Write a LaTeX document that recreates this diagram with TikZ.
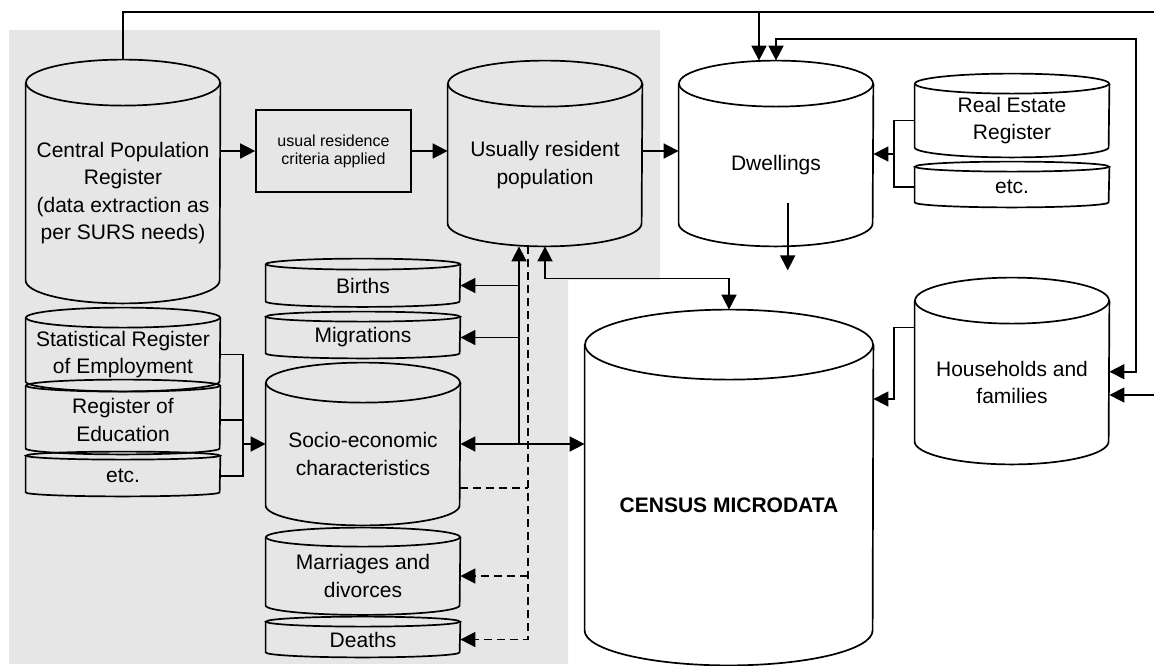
\documentclass[tikz,border=0pt]{standalone}
\usepackage{fontspec}
\setmainfont{Liberation Sans}
\usepackage{tikz}
\usetikzlibrary{arrows.meta}
\definecolor{panel}{HTML}{E6E6E6}

\begin{document}
\begin{tikzpicture}[
  x=0.5pt, y=-0.5pt,
  wire/.style={line width=0.85pt},
  flow/.style={wire, -{Triangle[length=7.5pt,width=7.5pt]}},
  flowboth/.style={wire, {Triangle[length=7.5pt,width=7.5pt]}-{Triangle[length=7.5pt,width=7.5pt]}},
  dwire/.style={wire, dash pattern=on 4pt off 2.5pt},
  dflow/.style={flow, dash pattern=on 4pt off 2.5pt},
  db/.style={minimum width=97pt, inner sep=0pt, align=center,
    font=\fontsize{10.5}{13.6}\selectfont},
  box/.style={draw, line width=0.85pt, minimum width=77.5pt, minimum height=41pt,
    inner sep=0pt, align=center, font=\fontsize{8}{9}\selectfont},
]
  \useasboundingbox (0,0) rectangle (1154,665);
  \fill[panel] (9,30) -| (660,280) -| (568,664) -- (9,664) -- cycle;

  % registers and statistical data sets
  \node[db, minimum height=87pt] (cpr) at (123,193)
    {Central Population\\Register\\(data extraction as\\per SURS needs)};
  \node[box] (crit) at (333.5,151) {usual residence\\criteria applied};
  \node[db, minimum height=58pt] (urp) at (545,165) {Usually resident\\population};
  \node[db, minimum height=58pt] (dwel) at (776,165) {Dwellings};
  \node[db, minimum height=26.5pt] (rer) at (1012,120.5) {Real Estate\\Register};
  \node[db, minimum height=15pt] (etc2) at (1012,187) {etc.};
  \node[db, minimum height=58.5pt] (hhf) at (1012,382.5) {Households and\\families};
  \node[db, minimum width=144pt, minimum height=125pt, font=\fontsize{10.5}{13.6}\selectfont\bfseries]
    (cen) at (729,505) {CENSUS MICRODATA};
  \node[db, minimum height=15.5pt] (bir) at (363,285.5) {Births};
  \node[db, minimum height=15.5pt] (mig) at (363,337.5) {Migrations};
  \node[db, minimum height=51pt] (soc) at (363,454) {Socio-economic\\characteristics};
  \node[db, minimum height=29pt] (mar) at (363,576) {Marriages and\\divorces};
  \node[db, minimum height=12.5pt] (dea) at (363,639.5) {Deaths};
  \node[db, minimum height=26.5pt] (sre) at (123,354.5) {Statistical Register\\of Employment};
  \node[db, minimum height=28pt] (roe) at (123,420) {Register of\\Education};
  \node[db, minimum height=16pt] (etc1) at (123,476) {etc.};

  % cylinder outlines
  \foreach \nm/\rx/\ry in {cpr/48.5pt/11.5pt, urp/48.5pt/11.5pt, dwel/48.5pt/11.5pt,
      rer/48.5pt/5pt, etc2/48.5pt/2.5pt, hhf/48.5pt/11.5pt, cen/72pt/17.5pt,
      bir/48.5pt/2.75pt, mig/48.5pt/2.5pt, soc/48.5pt/10pt, mar/48.5pt/4.75pt,
      dea/48.5pt/2.5pt, sre/48.5pt/5pt, roe/48.5pt/3pt, etc1/48.5pt/2pt} {
    \draw[wire] ([yshift=\ry]\nm.north west) -- (\nm.south west)
      arc[start angle=180, end angle=360, x radius=\rx, y radius=\ry]
      -- ([yshift=\ry]\nm.north east);
    \draw[wire] ([yshift=\ry]\nm.north) ellipse[x radius=\rx, y radius=\ry];
    \coordinate (\nm-top) at ([yshift=2*\ry]\nm.north);
    \coordinate (\nm-bot) at ([yshift=-\ry]\nm.south);
  }

  % junctions and picture edges
  \coordinate (edgeN) at (1154,12);
  \coordinate (edgeE) at (1154,395);
  \coordinate (tapN) at (759,12);
  \coordinate (hhloop) at (1136,39);
  \coordinate (rbr) at (894,154);
  \coordinate (hbr) at (894,399);
  \coordinate (lbr) at (243,444);
  \coordinate (solid) at (519,444);
  \coordinate (dash) at (528,488);

  % connectors
  \draw[wire] (cpr-top) |- (edgeN);
  \draw[flow] (tapN) -- (tapN |- dwel-top);
  \draw[flowboth] (dwel-top) |- (hhloop) |- ([yshift=5.4pt]hhf.east);
  \draw[flow] (edgeE) -- (edgeE -| hhf.east);
  \draw[flow] (cpr.east |- crit.west) -- (crit.west);
  \draw[flow] (crit.east) -- (crit.east -| urp.west);
  \draw[flow] (urp.east |- crit.east) -- (crit.east -| dwel.west);
  \draw[wire] (rer.west) -| (rbr) |- (etc2.west);
  \draw[flow] (rbr) -- (rbr -| dwel.east);
  \draw[flow] ([xshift=5.85pt,yshift=10pt]dwel.south) -- ++(0,67);
  \draw[flowboth] (urp-bot) -- ++(0,32) -| (cen-top);
  \draw[flowboth] (soc.east |- solid) -- (cen.west |- solid);
  \draw[flow] (solid) -- (solid |- urp-bot);
  \draw[flow] (solid |- bir.east) -- (bir.east);
  \draw[flow] (solid |- mig.east) -- (mig.east);
  \draw[dwire] (soc.east |- dash) -- (dash);
  \draw[dflow] (dash |- urp-bot) |- (dea.east);
  \draw[dflow] (dash |- mar.east) -- (mar.east);
  \draw[wire] (sre.east) -| (lbr) |- (etc1.east);
  \draw[wire] (roe.east) -- (roe.east -| lbr);
  \draw[flow] (lbr) -- (lbr -| soc.west);
  \draw[flow] ([yshift=-2pt]hhf.north west) -| (hbr) -- (hbr -| cen.east);
\end{tikzpicture}
\end{document}
